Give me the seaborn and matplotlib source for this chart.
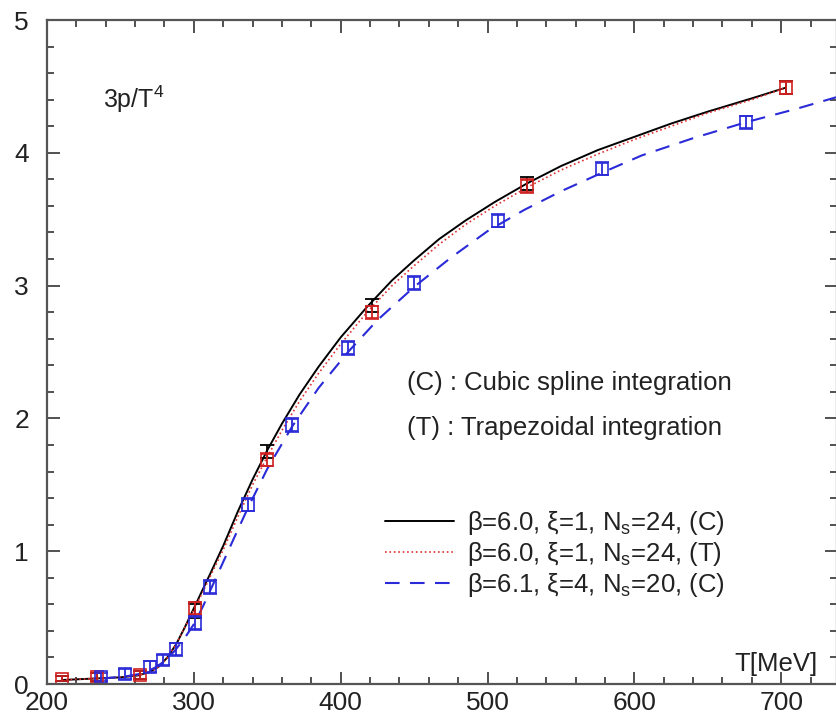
import numpy as np
import pandas as pd
import seaborn as sns
import matplotlib.pyplot as plt
from matplotlib.ticker import MultipleLocator

# data points (T in MeV, 3p/T^4)
t_c = [210, 234, 263, 301, 350, 421, 527, 703]
p_c = [0.04, 0.05, 0.07, 0.55, 1.75, 2.85, 3.77, 4.49]
e_c = [0.02, 0.03, 0.03, 0.05, 0.05, 0.05, 0.05, 0.05]

t_t = [210, 234, 263, 301, 350, 421, 527, 703]
p_t = [0.04, 0.05, 0.07, 0.57, 1.69, 2.80, 3.75, 4.49]
e_t = [0.02, 0.03, 0.03, 0.05, 0.05, 0.05, 0.05, 0.05]

t_b = [237, 253, 270, 279, 288, 301, 311, 337, 367, 405, 450, 507, 578, 676]
p_b = [0.05, 0.075, 0.13, 0.18, 0.26, 0.46, 0.73, 1.35, 1.95, 2.53, 3.02, 3.49, 3.88, 4.23]
e_b = [0.03, 0.04, 0.04, 0.04, 0.05, 0.05, 0.05, 0.05, 0.05, 0.05, 0.05, 0.05, 0.05, 0.05]

# fitted curves
curve_c_t = [210, 230, 250, 262, 270, 276, 282, 288, 294, 300, 306, 312, 320, 330, 340, 350, 360,
             372, 385, 400, 418, 435, 450, 467, 485, 505, 527, 550, 575, 600, 625, 650, 680, 703]
curve_c_p = [0.03, 0.04, 0.05, 0.065, 0.09, 0.13, 0.20, 0.30, 0.43, 0.57, 0.71, 0.85, 1.04, 1.30,
             1.54, 1.76, 1.96, 2.18, 2.39, 2.61, 2.84, 3.04, 3.19, 3.35, 3.49, 3.63, 3.77, 3.90,
             4.02, 4.12, 4.22, 4.31, 4.41, 4.49]
curve_t_t = curve_c_t
curve_t_p = [0.03, 0.04, 0.05, 0.065, 0.09, 0.13, 0.20, 0.30, 0.43, 0.56, 0.69, 0.83, 1.01, 1.26,
             1.50, 1.71, 1.91, 2.13, 2.34, 2.56, 2.80, 3.00, 3.15, 3.31, 3.46, 3.60, 3.74, 3.87,
             3.99, 4.10, 4.20, 4.30, 4.40, 4.49]
curve_b_t = [237, 255, 265, 273, 280, 287, 294, 300, 306, 311, 318, 327, 337, 350, 367, 385, 405,
             425, 450, 475, 500, 525, 550, 578, 605, 640, 676, 710, 738]
curve_b_p = [0.04, 0.06, 0.08, 0.12, 0.17, 0.25, 0.35, 0.45, 0.58, 0.70, 0.87, 1.09, 1.33, 1.62,
             1.94, 2.23, 2.50, 2.74, 2.99, 3.21, 3.41, 3.57, 3.71, 3.85, 3.98, 4.11, 4.23, 4.33, 4.42]

labels = ['β=6.0, ξ=1, N$_\\mathregular{s}$=24, (C)',
          'β=6.0, ξ=1, N$_\\mathregular{s}$=24, (T)',
          'β=6.1, ξ=4, N$_\\mathregular{s}$=20, (C)']

sns.set_style('ticks')
plt.rcParams['font.family'] = ['Liberation Sans', 'DejaVu Sans']
plt.rcParams['mathtext.fontset'] = 'custom'
plt.rcParams['mathtext.rm'] = 'Liberation Sans'
plt.rcParams['mathtext.it'] = 'Liberation Sans'

fig = plt.figure(figsize=(8.37, 7.23), dpi=100)
ax = fig.add_axes([47 / 837, 39 / 723, 790 / 837, 664 / 723])

sns.lineplot(x=curve_c_t, y=curve_c_p, ax=ax, color='black', lw=1.4, label=labels[0], sort=False)
sns.lineplot(x=curve_t_t, y=curve_t_p, ax=ax, color='#e03030', lw=1.2, ls=':', label=labels[1], sort=False)
sns.lineplot(x=curve_b_t, y=curve_b_p, ax=ax, color='#2a2ad8', lw=1.5, label=labels[2], sort=False)
ax.lines[2].set_dashes([7, 5])

ax.errorbar(t_c, p_c, yerr=e_c, fmt='none', ecolor='black', elinewidth=1.3, capsize=5, capthick=1.3)
ax.errorbar(t_t, p_t, yerr=e_t, fmt='s', color='#d02020', ms=9, mfc='none', mew=1.2,
            elinewidth=1.3, capsize=5, capthick=1.3)
ax.errorbar(t_b, p_b, yerr=e_b, fmt='s', color='#2a2ad8', ms=9, mfc='none', mew=1.2,
            elinewidth=1.3, capsize=5, capthick=1.3)

ax.set_xlim(200, 738)
ax.set_ylim(0, 5)
ax.xaxis.set_major_locator(MultipleLocator(100))
ax.xaxis.set_minor_locator(MultipleLocator(20))
ax.yaxis.set_major_locator(MultipleLocator(1))
ax.yaxis.set_minor_locator(MultipleLocator(0.2))
ax.tick_params(which='both', direction='in', top=True, right=True, labelsize=19, colors='#333333',
               labelcolor='#222222', width=1.2)
ax.tick_params(which='major', length=9)
ax.tick_params(which='minor', length=5)
ax.tick_params(axis='x', pad=5)
ax.tick_params(axis='y', pad=13)
for s in ax.spines.values():
    s.set_color('#555555')
    s.set_linewidth(1.6)

ax.text(238, 4.4, '3p/T$^\\mathregular{4}$', fontsize=18, va='center', color='#222222')
ax.text(445.5, 2.27, '(C) : Cubic spline integration', fontsize=18.5, va='center', color='#222222')
ax.text(445.5, 1.93, '(T) : Trapezoidal integration', fontsize=18.5, va='center', color='#222222')
ax.text(725, 0.15, 'T[MeV]', fontsize=18.5, va='center', ha='right', color='#222222')

ax.legend(loc='upper left', bbox_to_anchor=(0.428, 0.264), frameon=False, fontsize=18.5,
          handlelength=2.7, handletextpad=0.47, labelspacing=0.12, borderpad=0,
          borderaxespad=0, labelcolor='#222222')

fig.savefig('out.png', dpi=100)
